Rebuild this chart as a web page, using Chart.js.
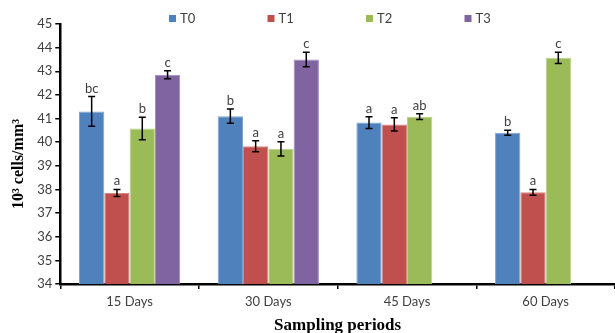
<!DOCTYPE html>
<html>
<head>
<meta charset="utf-8">
<script src="https://cdn.jsdelivr.net/npm/chart.js@4.4.0/dist/chart.umd.min.js"></script>
<style>
  body { margin: 0; background: #fff; }
</style>
</head>
<body>
<canvas id="chartWBC" width="615" height="333"></canvas>
<script>
// data
const periods = ["15 Days", "30 Days", "45 Days", "60 Days"];
const treatments = ["T0", "T1", "T2", "T3"];

const t0 = [41.3, 41.1, 40.83, 40.4];
const t1 = [37.85, 39.83, 40.75, 37.88];
const t2 = [40.58, 39.72, 41.08, 43.57];
const t3 = [42.85, 43.5, null, null];

const errT0 = [0.63, 0.3, 0.25, 0.11];
const errT1 = [0.15, 0.23, 0.28, 0.12];
const errT2 = [0.48, 0.3, 0.12, 0.24];
const errT3 = [0.17, 0.31, null, null];

const lettersT0 = ["bc", "b", "a", "b"];
const lettersT1 = ["a", "a", "a", "a"];
const lettersT2 = ["b", "a", "ab", "c"];
const lettersT3 = ["c", "c", null, null];

const yTicks = { min: 34, max: 45, step: 1 };

const colors = ["#4F81BD", "#C0504D", "#9BBB59", "#8064A2"];
const edges = ["#7FA3D0", "#D68683", "#B8D08A", "#A08BBD"];

const series = [t0, t1, t2, t3];
const errs = [errT0, errT1, errT2, errT3];
const letters = [lettersT0, lettersT1, lettersT2, lettersT3];

const grey = "#404040";
const sans = "Lato, 'Open Sans', sans-serif";
const serif = "'Liberation Serif', serif";

// error bars + significance letters
const errorBars = {
  id: "errorBars",
  afterDatasetsDraw(chart) {
    const ctx = chart.ctx;
    const y = chart.scales.y;
    ctx.save();
    chart.data.datasets.forEach((ds, d) => {
      const meta = chart.getDatasetMeta(d);
      meta.data.forEach((bar, i) => {
        const v = ds.data[i];
        if (v == null) return;
        const e = errs[d][i];
        const hi = y.getPixelForValue(v + e);
        const lo = y.getPixelForValue(v - e);
        ctx.strokeStyle = "#000";
        ctx.lineWidth = 1.5;
        ctx.beginPath();
        ctx.moveTo(bar.x, hi);
        ctx.lineTo(bar.x, lo);
        ctx.moveTo(bar.x - 3.5, hi);
        ctx.lineTo(bar.x + 3.5, hi);
        ctx.moveTo(bar.x - 3.5, lo);
        ctx.lineTo(bar.x + 3.5, lo);
        ctx.stroke();
        if (letters[d][i]) {
          ctx.fillStyle = grey;
          ctx.font = "13px " + sans;
          ctx.textAlign = "center";
          ctx.textBaseline = "alphabetic";
          ctx.fillText(letters[d][i], bar.x, hi - 4);
        }
      });
    });
    ctx.restore();
  }
};

// Excel-like legend spread across the top
const topLegend = {
  id: "topLegend",
  afterDraw(chart) {
    const ctx = chart.ctx;
    ctx.save();
    ctx.font = "13px " + sans;
    ctx.textBaseline = "middle";
    ctx.textAlign = "left";
    chart.data.datasets.forEach((ds, i) => {
      const x = 169 + i * 98.5;
      ctx.fillStyle = ds.backgroundColor;
      ctx.fillRect(x, 15, 7, 7);
      ctx.fillStyle = grey;
      ctx.fillText(ds.label, x + 11, 19);
    });
    ctx.restore();
  }
};

new Chart(document.getElementById("chartWBC").getContext("2d"), {
  type: "bar",
  data: {
    labels: periods,
    datasets: treatments.map((t, i) => ({
      label: t,
      data: series[i],
      backgroundColor: colors[i],
      borderColor: edges[i],
      borderWidth: 1,
      categoryPercentage: 0.73,
      barPercentage: 1.0,
    })),
  },
  options: {
    responsive: false,
    animation: false,
    layout: { padding: { top: 24, left: 9, right: 0, bottom: -5 } },
    plugins: {
      legend: { display: false },
      tooltip: { enabled: false },
    },
    scales: {
      x: {
        grid: {
          display: true,
          drawOnChartArea: false,
          drawTicks: true,
          tickLength: 5,
          color: "#000",
          lineWidth: 1.5,
        },
        border: { color: "#000", width: 2.5 },
        ticks: { color: grey, font: { size: 13, family: sans }, padding: 5 },
        title: {
          display: true,
          text: "Sampling periods",
          color: "#000",
          font: { family: serif, size: 17, weight: "bold" },
          padding: { top: 1, bottom: 2 },
        },
      },
      y: {
        min: yTicks.min,
        max: yTicks.max,
        grid: {
          display: true,
          drawOnChartArea: false,
          drawTicks: true,
          tickLength: 5,
          color: "#000",
          lineWidth: 1.5,
        },
        border: { color: "#000", width: 2.5 },
        ticks: {
          stepSize: yTicks.step,
          color: grey,
          font: { size: 13, family: sans },
          padding: 3,
        },
        title: {
          display: true,
          text: "10³ cells/mm³     ",
          color: "#000",
          font: { family: serif, size: 16, weight: "bold" },
          padding: { top: 0, bottom: 6 },
        },
      },
    },
  },
  plugins: [errorBars, topLegend],
});
</script>
</body>
</html>
